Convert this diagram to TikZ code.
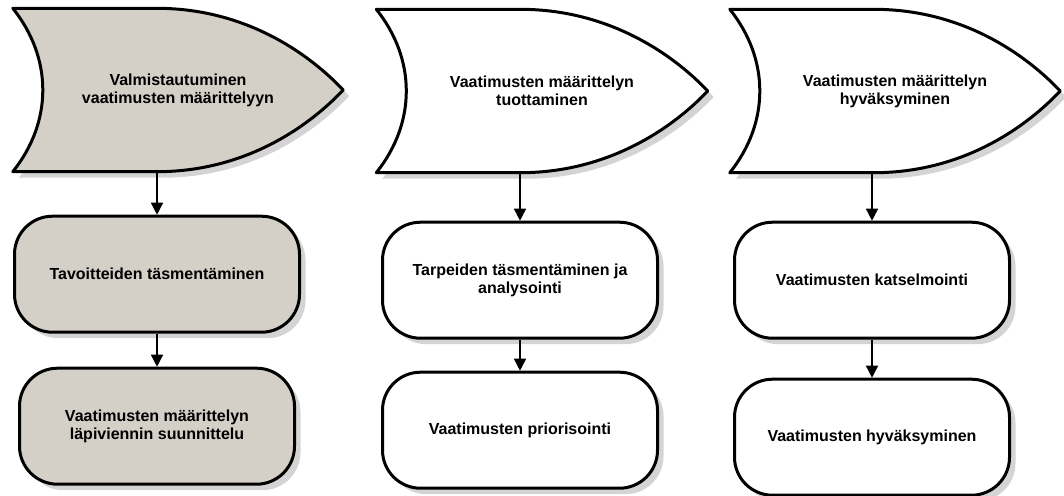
\documentclass[tikz,border=0pt]{standalone}
\usepackage{fontspec}
\setmainfont{Liberation Sans}
\usetikzlibrary{positioning, arrows.meta, shadows, backgrounds}
\definecolor{prepgray}{RGB}{212,208,200}
\tikzset{>={Triangle[width=12pt,length=12pt]},
x=1pt, y=1pt,
every node/.style={font=\bfseries\fontsize{16}{18}\selectfont, align=center},
phase/.style={minimum height=163pt, inner sep=0pt},
task/.style={draw, line width=3pt, rounded corners=38pt, minimum width=275pt, minimum height=116pt},
shade/.style={drop shadow={shadow xshift=6pt, shadow yshift=-6pt, fill=black!17, opacity=1}},
flow/.style={->, line width=1.6pt}
}
% phase outline drawn round a node: name, fill
\newcommand{\phaseshape}[2]{%
\draw[line width=3pt, line join=round, fill=#2, shade]
(#1.north west) -- ++(144,0) .. controls +(90,0) and +(-33,35) .. (#1.east)
.. controls +(-33,-35) and +(90,0) .. ([xshift=144pt]#1.south west)
-- (#1.south west) .. controls +(40,50) and +(40,-50) .. (#1.north west) -- cycle;}

\begin{document}
\begin{tikzpicture}
\useasboundingbox (0,0) rectangle (1064,-495);
% column 1
\node[phase, minimum width=330pt] (prep) at (178,-90) {Valmistautuminen\\vaatimusten määrittelyyn};
\node[task, fill=prepgray, shade, minimum width=285pt, below=43pt of prep, xshift=-21pt] (goal) {Tavoitteiden täsmentäminen};
\node[task, fill=prepgray, shade, below=33pt of goal] (plan) {Vaatimusten määrittelyn\\läpiviennin suunnittelu};
% column 2
\node[phase, minimum width=331pt] (prod) at (542,-91) {Vaatimusten määrittelyn\\tuottaminen};
\node[task, fill=white, shade, below=48pt of prod, xshift=-22pt] (need) {Tarpeiden täsmentäminen ja\\analysointi};
\node[task, fill=white, shade, below=31pt of need] (prio) {Vaatimusten priorisointi};
% column 3
\node[phase, minimum width=330pt] (appr) at (895,-91) {Vaatimusten määrittelyn\\hyväksyminen};
\node[task, fill=white, shade, below=48pt of appr, xshift=-23pt] (rev) {Vaatimusten katselmointi};
\node[task, fill=white, shade, below=38pt of rev] (acc) {Vaatimusten hyväksyminen};

\begin{scope}[on background layer]
\phaseshape{prep}{prepgray}
\phaseshape{prod}{white}
\phaseshape{appr}{white}
\end{scope}

\draw[flow] (prep.south -| goal.north) -- (goal.north);
\draw[flow] (goal) -- (plan);
\draw[flow] (prod.south -| need.north) -- (need.north);
\draw[flow] (need) -- (prio);
\draw[flow] (appr.south -| rev.north) -- (rev.north);
\draw[flow] (rev) -- (acc);
\end{tikzpicture}
\end{document}
